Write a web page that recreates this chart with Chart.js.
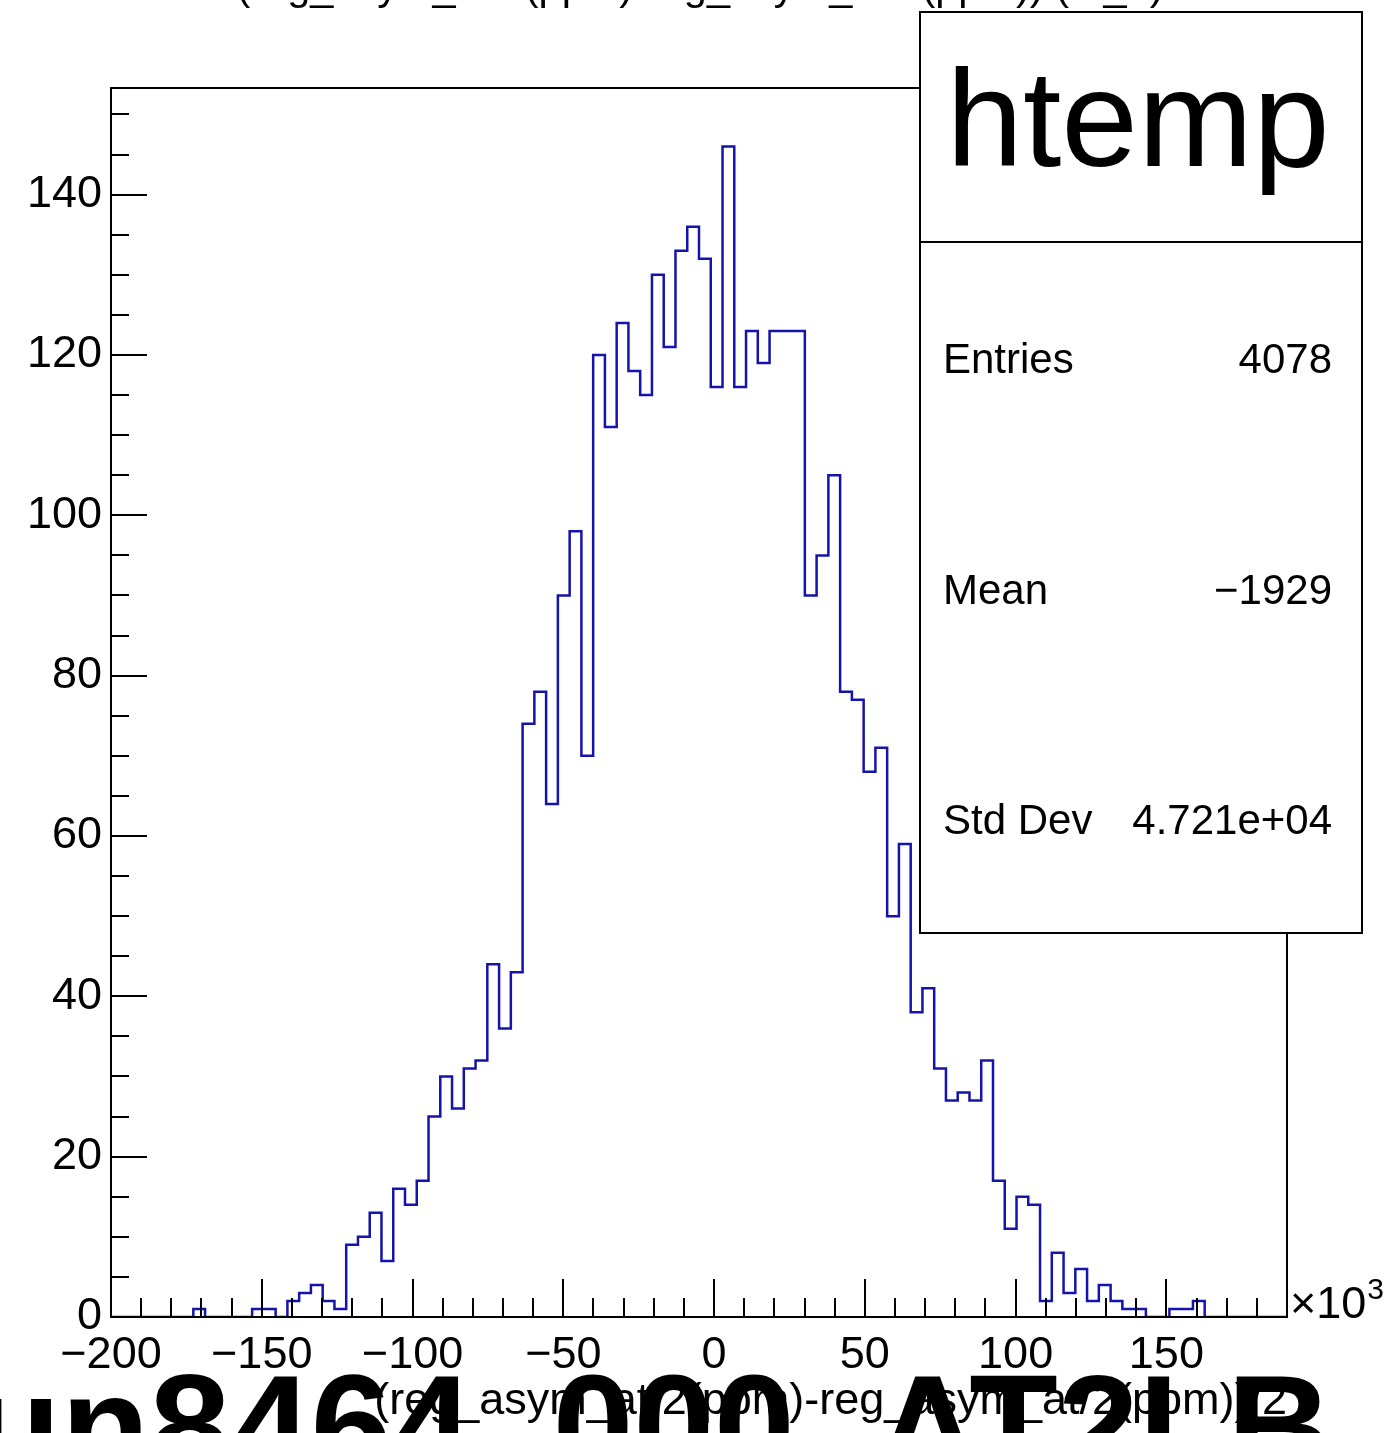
<!DOCTYPE html>
<html>
<head>
<meta charset="utf-8">
<script src="https://cdn.jsdelivr.net/npm/chart.js@4.4.1/dist/chart.umd.min.js"></script>
<style>
  html, body { margin: 0; padding: 0; background: #fff; }
  canvas { display: block; }
</style>
</head>
<body>
<canvas id="htemp" width="1391" height="1433"></canvas>
<script>
// binning of the histogram, x in units of 10^3
const xMin = -200;
const xMax = 190;
const nBins = 100;
const yMax = 153.3;

// bin contents, left to right
const counts = [
  0, 0, 0, 0, 0, 0, 0, 1, 0, 0,
  0, 0, 1, 1, 0, 2, 3, 4, 2, 1,
  9, 10, 13, 7, 16, 14, 17, 25, 30, 26,
  31, 32, 44, 36, 43, 74, 78, 64, 90, 98,
  70, 120, 111, 124, 118, 115, 130, 121, 133, 136,
  132, 116, 146, 116, 123, 119, 123, 123, 123, 90,
  95, 105, 78, 77, 68, 71, 50, 59, 38, 41,
  31, 27, 28, 27, 32, 17, 11, 15, 14, 2,
  8, 3, 6, 2, 4, 2, 1, 1, 0, 0,
  1, 1, 2, 0, 0, 0, 0, 0, 0, 0
];

const xTickValues = [-200, -150, -100, -50, 0, 50, 100, 150];
const yTickValues = [0, 20, 40, 60, 80, 100, 120, 140];

const plotTitle = "(reg_asym_at/2(ppm)-reg_asym_at/2(ppm))/(at_2)";
const xTitle = "(reg_asym_at/2(ppm)-reg_asym_at/2(ppm))/2";
const bigLabel = "run8464_000_AT2LB";

const statsName = "htemp";
const statsLabels = ["Entries", "Mean", "Std Dev"];
const statsValues = ["4078", "\u22121929", "4.721e+04"];

const FONT = "'Liberation Sans', Arial, Helvetica, sans-serif";

// bin edges -> stepped line points
const binWidth = (xMax - xMin) / nBins;
const points = [];
for (let k = 0; k <= nBins; k++) {
  points.push({ x: xMin + k * binWidth, y: k < nBins ? counts[k] : 0 });
}

function fmt(v) {
  return v < 0 ? "\u2212" + Math.abs(v) : String(v);
}

// ROOT look: frame, inward ticks, stats box, titles
const rootFrame = {
  id: 'rootFrame',
  afterDraw(chart) {
    const { ctx, chartArea: a, scales: { x, y } } = chart;
    ctx.save();
    ctx.strokeStyle = '#000';
    ctx.lineWidth = 2;
    ctx.strokeRect(a.left, a.top, a.right - a.left, a.bottom - a.top);

    ctx.beginPath();
    for (let v = 0; v <= yMax; v += 5) {
      const py = Math.round(y.getPixelForValue(v));
      const len = v % 20 === 0 ? 36 : 18;
      ctx.moveTo(a.left, py);
      ctx.lineTo(a.left + len, py);
    }
    for (let v = xMin; v <= xMax; v += 10) {
      const px = Math.round(x.getPixelForValue(v));
      const len = v % 50 === 0 ? 38 : 19;
      ctx.moveTo(px, a.bottom);
      ctx.lineTo(px, a.bottom - len);
    }
    ctx.stroke();

    // exponent at end of x axis
    ctx.fillStyle = '#000';
    ctx.textAlign = 'left';
    ctx.textBaseline = 'alphabetic';
    ctx.font = '45px ' + FONT;
    ctx.fillText('\u00d710', a.right + 3, a.bottom + 1);
    const w = ctx.measureText('\u00d710').width;
    ctx.font = '30px ' + FONT;
    ctx.fillText('3', a.right + 3 + w + 1, a.bottom - 18);

    // histogram title, mostly above the canvas
    ctx.font = '41.5px ' + FONT;
    ctx.textAlign = 'center';
    ctx.fillText(plotTitle, 700, 0);

    // stats box
    const bx = 920, by = 12, bw = 442, bh = 921;
    ctx.fillStyle = '#fff';
    ctx.fillRect(bx, by, bw, bh);
    ctx.strokeRect(bx, by, bw, bh);
    ctx.beginPath();
    ctx.moveTo(bx, 242);
    ctx.lineTo(bx + bw, 242);
    ctx.stroke();
    ctx.fillStyle = '#000';
    ctx.font = '138px ' + FONT;
    ctx.textAlign = 'center';
    ctx.fillText(statsName, bx + bw / 2 - 3, 166);
    ctx.font = '42px ' + FONT;
    const rowH = (bh - (242 - by)) / statsLabels.length;
    statsLabels.forEach((lab, i) => {
      const base = 242 + rowH * (i + 0.5) + 16;
      ctx.textAlign = 'left';
      ctx.fillText(lab, bx + 23, base);
      ctx.textAlign = 'right';
      ctx.fillText(statsValues[i], bx + bw - 30, base);
    });

    // big overlay label at the bottom
    ctx.font = 'bold 145px ' + FONT;
    ctx.textAlign = 'left';
    ctx.fillText(bigLabel, -84, 1476);
    ctx.restore();
  }
};

new Chart(document.getElementById('htemp'), {
  type: 'line',
  data: {
    datasets: [{
      data: points,
      stepped: 'before',
      borderColor: '#1414aa',
      borderWidth: 2.5,
      pointRadius: 0,
      fill: false
    }]
  },
  options: {
    responsive: false,
    animation: false,
    devicePixelRatio: 1,
    layout: { padding: { top: 88, right: 104, left: 0, bottom: 0 } },
    plugins: {
      legend: { display: false },
      tooltip: { enabled: false },
      title: { display: false }
    },
    scales: {
      x: {
        type: 'linear',
        min: xMin,
        max: xMax,
        grid: { display: false, drawTicks: false },
        border: { display: false },
        afterBuildTicks: s => { s.ticks = xTickValues.map(v => ({ value: v })); },
        afterFit: s => { s.height = 116; },
        ticks: {
          font: { family: FONT, size: 45 },
          color: '#000',
          padding: 12,
          maxRotation: 0,
          autoSkip: false,
          callback: v => fmt(v)
        },
        title: {
          display: true,
          text: xTitle,
          align: 'end',
          color: '#000',
          font: { family: FONT, size: 45 },
          padding: { top: 0, bottom: 4 }
        }
      },
      y: {
        min: 0,
        max: yMax,
        grid: { display: false, drawTicks: false },
        border: { display: false },
        afterBuildTicks: s => { s.ticks = yTickValues.map(v => ({ value: v })); },
        afterFit: s => { s.width = 111; },
        ticks: {
          font: { family: FONT, size: 45 },
          color: '#000',
          padding: 9,
          autoSkip: false,
          callback: v => fmt(v)
        }
      }
    }
  },
  plugins: [rootFrame]
});
</script>
</body>
</html>
